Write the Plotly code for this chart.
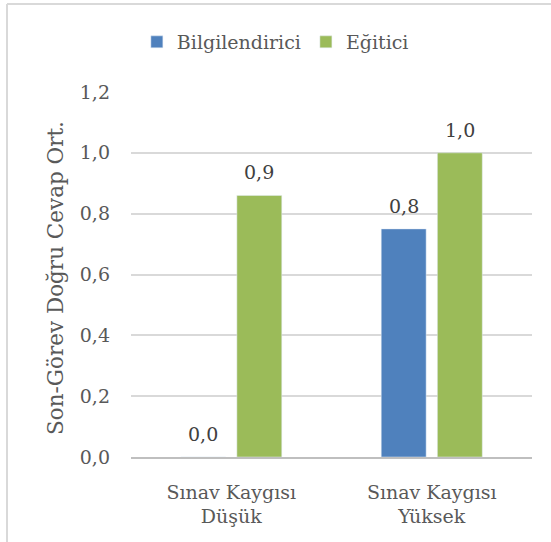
import plotly.graph_objects as go

categories = ["Sınav Kaygısı<br>Düşük", "Sınav Kaygısı<br>Yüksek"]
series_names = ["Bilgilendirici", "Eğitici"]
bilgilendirici = [0.0, 0.75]
egitici = [0.86, 1.0]
y_ticks = [0.0, 0.2, 0.4, 0.6, 0.8, 1.0, 1.2]
y_ticklabels = ["0,0", "0,2", "0,4", "0,6", "0,8", "1,0", "1,2"]

FONT = "DejaVu Serif"
TXT = "#595959"
FS = 19
colors = ["#4F81BD", "#9BBB59"]

fig = go.Figure()
for name, vals, col in zip(series_names, [bilgilendirici, egitici], colors):
    fig.add_trace(go.Bar(name=name, x=categories, y=vals, marker_color=col))

annotations = []
for i, vals in enumerate([bilgilendirici, egitici]):
    for cat, v in zip(categories, vals):
        annotations.append(dict(x=cat, y=v, text=f"{v:.1f}".replace(".", ","),
                                xref="x", yref="y", showarrow=False,
                                xshift=(i - 0.5) * 56, yshift=10, yanchor="bottom",
                                font=dict(family=FONT, size=FS, color="#404040")))
annotations.append(dict(text="Son-Görev Doğru Cevap Ort.", textangle=-90,
                        xref="paper", yref="paper", x=-0.19, y=0.49,
                        xanchor="center", yanchor="middle", showarrow=False,
                        font=dict(family=FONT, size=21.5, color=TXT)))

fig.update_layout(
    width=551, height=542,
    margin=dict(l=131, r=19, t=92, b=85),
    paper_bgcolor="white", plot_bgcolor="white",
    separators=",.",
    barmode="group", bargap=0.44, bargroupgap=0.2,
    font=dict(family=FONT, size=FS, color=TXT),
    showlegend=True,
    legend=dict(orientation="h", x=0.36, xanchor="center", y=1.137, yanchor="middle",
                font=dict(family=FONT, size=FS, color=TXT), itemwidth=30,
                traceorder="normal"),
    xaxis=dict(showline=True, linecolor="#BFBFBF", linewidth=1.5, ticks="",
               tickfont=dict(family=FONT, size=FS, color=TXT), ticklabelstandoff=17),
    yaxis=dict(range=[0, 1.2], tickvals=y_ticks, ticktext=y_ticklabels,
               showgrid=True, gridcolor="#D9D9D9", gridwidth=1.5, zeroline=False,
               showline=False, ticks="", ticklabelstandoff=20,
               tickfont=dict(family=FONT, size=FS, color=TXT)),
    annotations=annotations,
    shapes=[
        dict(type="line", xref="paper", yref="paper", x0=-124/401, x1=-124/401,
             y0=-85/365, y1=1 + 88/365, line=dict(color="#D9D9D9", width=2)),
        dict(type="line", xref="paper", yref="paper", x0=-124/401, x1=1 + 19/401,
             y0=1 + 88/365, y1=1 + 88/365, line=dict(color="#D9D9D9", width=2)),
    ],
)

fig.write_html("out.html", config={"displayModeBar": False},
               post_script="document.body.style.margin='0';")
